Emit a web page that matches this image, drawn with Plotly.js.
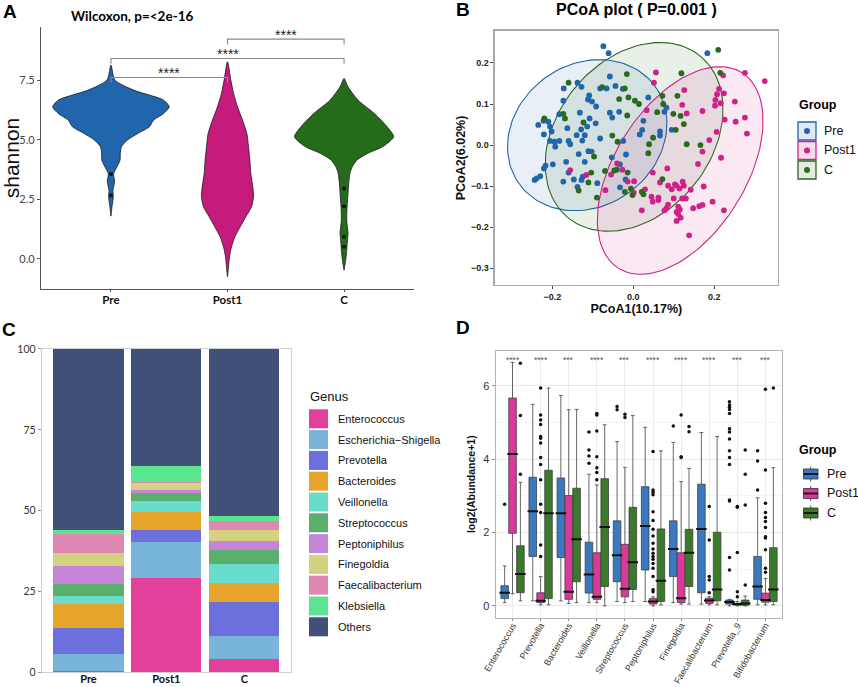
<!DOCTYPE html>
<html><head><meta charset="utf-8">
<script src="https://cdn.plot.ly/plotly-3.0.1.min.js"></script>
<style>html,body{margin:0;padding:0;background:#fff}#chart{width:858px;height:687px}</style>
</head><body><div id="chart"></div>
<script>
// ---------- shared ----------
const groups = ['Pre', 'Post1', 'C'];

// ---------- Panel A: Shannon violins ----------
const shannonQ1 = [5.50, 2.33, 4.61];
const shannonMedian = [6.10, 3.33, 5.06];
const shannonQ3 = [6.51, 4.66, 5.69];
const shannonLower = [4.00, 0.85, 3.40];
const shannonUpper = [7.25, 6.59, 6.52];
const shannonOutGroup = [0, 0, 2, 2, 2, 2];
const shannonOutValue = [3.56, 2.67, 2.95, 2.21, 0.92, 0.50];
const preViolinY = [8.13, 7.50, 7.08, 6.66, 6.38, 6.10, 5.82, 5.54, 5.26, 4.98, 4.70, 4.42, 4.14, 3.86, 3.58, 3.23, 2.88, 2.60, 2.18, 1.79];
const preViolinW = [0, 0.034, 0.195, 0.452, 0.500, 0.452, 0.366, 0.330, 0.230, 0.140, 0.090, 0.080, 0.078, 0.052, 0.023, 0.031, 0.017, 0.020, 0.009, 0];
const post1ViolinY = [8.27, 7.50, 6.94, 6.38, 5.82, 5.26, 4.70, 4.14, 3.58, 3.02, 2.60, 2.18, 1.76, 1.34, 0.92, 0.50, 0.08, -0.34, -0.76];
const post1ViolinW = [0, 0.029, 0.052, 0.086, 0.129, 0.166, 0.180, 0.192, 0.200, 0.217, 0.223, 0.206, 0.157, 0.109, 0.063, 0.034, 0.017, 0.009, 0];
const cViolinY = [7.57, 7.22, 6.66, 6.10, 5.54, 5.12, 4.70, 4.42, 4.14, 3.86, 3.58, 3.16, 2.74, 2.18, 1.62, 1.06, 0.78, 0.36, -0.06, -0.48];
const cViolinW = [0, 0.034, 0.120, 0.260, 0.370, 0.425, 0.330, 0.200, 0.110, 0.070, 0.050, 0.040, 0.034, 0.026, 0.023, 0.034, 0.029, 0.023, 0.014, 0];
const sigPairs = [[0, 1], [0, 2], [1, 2]];
const sigHeights = [7.61, 8.41, 9.22];
const sigLabels = ['****', '****', '****'];

// ---------- Panel B: PCoA ----------
const preX = [-0.074,-0.061,0.183,-0.172,-0.138,-0.128,-0.058,-0.082,-0.066,-0.044,-0.026,-0.109,-0.112,-0.102,-0.092,-0.173,-0.035,-0.058,-0.052,-0.132,-0.108,-0.183,-0.222,-0.235,-0.210,-0.206,-0.202,-0.221,-0.114,-0.093,-0.163,-0.129,-0.120,-0.140,-0.082,-0.025,-0.183,-0.195,-0.206,-0.160,-0.156,-0.126,-0.193,-0.135,-0.111,-0.103,-0.053,-0.166,-0.120,-0.217,-0.221,-0.199,-0.230,-0.239,-0.244,-0.160,-0.147,-0.173,-0.125,-0.128,-0.138,-0.089,-0.033,-0.019,-0.033,-0.018,0.037,0.082,0.077,0.025,0.022,0.016,0.066,0.066,0.095];
const preY = [0.241,0.224,0.224,0.138,0.152,0.142,0.167,0.138,0.138,0.144,0.137,0.121,0.111,0.106,0.094,0.108,0.081,0.079,0.067,0.079,0.065,0.075,0.059,0.049,0.057,0.045,0.033,0.026,0.045,0.053,0.041,0.038,0.024,0.024,0.016,0.010,0.010,0.008,0.010,0.010,0.002,0.011,-0.004,-0.022,-0.015,-0.016,-0.030,-0.041,-0.041,-0.050,-0.057,-0.047,-0.076,-0.081,-0.085,-0.067,-0.084,-0.089,-0.077,-0.085,-0.102,-0.093,-0.047,-0.084,-0.103,-0.023,0.116,0.091,0.081,0.059,0.037,0.026,0.033,0.023,0.037];
const post1X = [0.056,0.276,0.222,0.325,0.051,0.126,0.212,0.224,0.207,0.203,0.216,0.202,0.251,0.121,0.033,0.132,0.171,0.226,0.253,0.276,0.206,0.281,0.188,0.171,0.217,0.160,0.084,0.048,0.066,0.002,0.086,0.103,0.107,0.122,0.125,0.114,0.095,0.174,0.142,0.029,0.045,0.062,0.062,0.048,0.100,0.121,0.130,0.196,0.171,0.163,0.148,0.086,0.082,0.077,0.111,0.115,0.107,0.111,0.117,0.107,0.021,0.224,0.138,-0.156,-0.116,-0.055,-0.040,-0.027,-0.014,0.001,-0.069];
const post1Y = [0.177,0.176,0.170,0.156,0.152,0.134,0.137,0.126,0.124,0.110,0.102,0.096,0.106,0.098,0.085,0.077,0.083,0.062,0.057,0.067,0.032,0.028,0.012,-0.016,-0.031,-0.046,-0.057,-0.067,-0.091,-0.088,-0.099,-0.096,-0.099,-0.089,-0.099,-0.106,-0.108,-0.101,-0.109,-0.108,-0.126,-0.128,-0.134,-0.138,-0.130,-0.130,-0.130,-0.138,-0.146,-0.149,-0.154,-0.145,-0.154,-0.159,-0.150,-0.157,-0.163,-0.168,-0.177,-0.185,-0.159,-0.159,-0.220,-0.061,-0.073,-0.072,-0.045,-0.060,-0.089,-0.116,-0.110];
const cX = [-0.160,-0.077,-0.021,-0.016,-0.035,-0.012,0.004,0.014,-0.015,-0.173,-0.169,-0.220,-0.123,-0.052,-0.039,-0.097,-0.104,-0.111,-0.135,-0.090,-0.070,-0.047,-0.041,-0.014,-0.021,-0.006,-0.002,0.210,0.119,0.215,0.109,0.072,0.074,0.059,0.099,0.117,0.125,0.105,0.049,0.039,0.132,0.166,0.037,0.072,0.021,0.025];
const cY = [0.152,0.141,0.138,0.173,0.112,0.116,0.108,0.100,0.072,0.076,0.065,0.065,0.055,0.023,0.008,-0.028,-0.067,-0.091,-0.111,-0.128,-0.063,-0.062,-0.060,-0.067,-0.114,-0.106,-0.122,0.232,0.175,0.176,0.120,0.120,0.100,0.080,0.076,0.071,0.051,0.037,0.018,0.002,0.002,0.000,-0.020,-0.083,-0.114,-0.120];
// ellipse parameters (Pre, Post1, C)
const ellCx = [-0.114, 0.116, 0.002];
const ellCy = [0.024, -0.062, 0.020];
const ellA = [0.206, 0.283, 0.256];
const ellB = [0.174, 0.161, 0.189];
const ellAngleDeg = [33, 57, 49.4];

// ---------- Panel C: genus composition ----------
const genusNames = ['Enterococcus','Escherichia\u2212Shigella','Prevotella','Bacteroides','Veillonella','Streptococcus','Peptoniphilus','Finegoldia','Faecalibacterium','Klebsiella','Others'];
const genusColors = ['#E2409A','#79B4DB','#6B70DD','#E6A42D','#69DCCB','#5BAF6D','#C685D9','#D4D27F','#E088B4','#5BE58F','#415079'];
const preAbund = [0.4, 5.3, 7.9, 7.5, 2.5, 3.7, 5.7, 3.8, 5.9, 1.4, 55.9];
const post1Abund = [29.1, 11.3, 3.6, 5.7, 3.2, 2.6, 0.8, 2.4, 0.2, 5.0, 36.1];
const cAbund = [4.2, 7.1, 10.5, 5.7, 5.9, 4.5, 2.7, 3.3, 2.8, 1.7, 51.6];

// ---------- Panel D: taxa boxplots ----------
const taxa = ['Enterococcus','Prevotella','Bacteroides','Veillonella','Streptococcus','Peptoniphilus','Finegoldia','Faecalibacterium','Prevotella_9','Bifidobacterium'];
const taxaStars = ['****','****','***','****','***','****','****','****','***','***'];
const dPreQ1 = [0.20,1.35,1.32,0.35,0.66,0.98,0.80,0.36,0.05,0.18];
const dPreMed = [0.36,2.58,2.53,0.86,1.38,2.18,1.55,2.10,0.11,0.53];
const dPreQ3 = [0.55,3.51,3.49,1.74,2.32,3.25,2.32,3.32,0.16,1.35];
const dPreLow = [0.09,0.14,0.14,0.09,0.12,0.12,0.09,0.05,0.00,0.03];
const dPreUp = [1.09,5.50,5.74,3.59,4.48,4.87,4.46,4.73,0.18,2.95];
const dPostQ1 = [1.98,0.09,0.18,0.18,0.25,0.05,0.09,0.07,0.02,0.10];
const dPostMed = [4.14,0.14,0.39,0.25,0.47,0.12,0.21,0.15,0.05,0.16];
const dPostQ3 = [5.67,0.36,3.01,1.45,1.68,0.20,1.45,0.21,0.07,0.35];
const dPostLow = [0.33,0.03,0.07,0.09,0.09,0.00,0.05,0.03,0.00,0.03];
const dPostUp = [6.64,0.80,5.35,3.30,3.78,0.25,3.39,0.25,0.12,0.75];
const dCQ1 = [0.36,0.20,0.66,0.53,0.45,0.12,0.53,0.14,0.02,0.12];
const dCMed = [0.87,2.53,1.82,2.15,1.19,0.69,1.45,0.45,0.07,0.45];
const dCQ3 = [1.64,3.70,3.21,3.47,2.69,2.10,2.09,2.01,0.16,1.59];
const dCLow = [0.14,0.03,0.09,0.00,0.12,0.03,0.05,0.03,0.00,0.03];
const dCUp = [3.37,5.94,5.36,4.94,5.19,4.23,3.75,4.62,0.27,3.77];
const dPreOutliers = [[2.77],[],[],[3.89,4.09,4.25,4.74],[5.35,5.44],[],[4.91],[],[0.98,1.32,2.86,2.89,3.86,4.05,4.23,4.55,4.74,4.83,5.25,5.36,5.42,5.48,5.57],[3.16,3.95,4.23]];
const dPostOutliers = [[],[1.35,1.66,2.55,2.77,3.44,3.86,4.05,4.44,4.57,4.62,4.95,5.07,5.21,5.94],[],[3.44,3.64,3.77,4.07,4.77,5.21,5.25],[5.14,5.23],[0.39,0.44,0.80,1.03,1.16,1.27,1.35,1.44,1.55,1.71,1.91,2.09,2.33,2.57,3.03,3.10,3.16,4.21],[4.05,4.07,5.21],[0.36,0.71,0.80,1.80,2.71],[0.25,0.39,1.46,2.69,2.71],[0.92,1.03,1.53,1.85,1.89,2.14,2.30,2.41,2.55,2.80,3.71,5.91]];
const dCOutliers = [[3.59,5.19,6.62],[],[],[],[],[],[4.75,4.89],[],[0.57,2.75,3.59,4.25],[5.94]];

// ---------- styles ----------
const colA = ['#2166AC', '#C51B7D', '#246B1A'];
const colB = ['#2166AC', '#D0208A', '#2A6A1E'];
const colD = ['#3A78C0', '#D9399B', '#3B7A2B'];
const dOffsets = [-0.28, 0, 0.28];
const PX = x => x / 858, PY = y => 1 - y / 687;
function hexA(h, a) { const n = parseInt(h.slice(1), 16); return `rgba(${n>>16},${(n>>8)&255},${n&255},${a})`; }
const data = [];

// Panel A traces
const vY = [preViolinY, post1ViolinY, cViolinY], vW = [preViolinW, post1ViolinW, cViolinW];
groups.forEach((g, i) => {
  const ws = vW[i], ys = vY[i];
  const xs = ws.map(w => i + w).concat(ws.slice().reverse().map(w => i - w));
  const yy = ys.concat(ys.slice().reverse());
  data.push({type:'scatter', mode:'lines', x:xs, y:yy, fill:'toself', fillcolor:colA[i],
    line:{color:'#1a1a1a', width:0.8, shape:'spline', smoothing:0.7}, xaxis:'x', yaxis:'y', hoverinfo:'skip', showlegend:false});
});
data.push({type:'box', x:[0,1,2], q1:shannonQ1, median:shannonMedian, q3:shannonQ3,
  lowerfence:shannonLower, upperfence:shannonUpper, width:0.2, whiskerwidth:0, boxpoints:false,
  fillcolor:'#ffffff', line:{color:'#111', width:1.1}, xaxis:'x', yaxis:'y', hoverinfo:'skip', showlegend:false});
data.push({type:'scatter', mode:'markers', x:shannonOutGroup, y:shannonOutValue, marker:{color:'#111', size:4},
  xaxis:'x', yaxis:'y', hoverinfo:'skip', showlegend:false});
const sigDrop = 0.22;
sigPairs.forEach((p, k) => {
  const h = sigHeights[k];
  data.push({type:'scatter', mode:'lines', x:[p[0], p[0], p[1], p[1]], y:[h - sigDrop, h, h, h - sigDrop],
    line:{color:'#8a8a8a', width:1.1}, xaxis:'x', yaxis:'y', hoverinfo:'skip', showlegend:false});
});

// Panel B traces
[0, 2, 1].forEach(i => {
  const th = ellAngleDeg[i] * Math.PI / 180, xs = [], ys = [];
  for (let k = 0; k <= 120; k++) {
    const t = 2 * Math.PI * k / 120;
    xs.push(ellCx[i] + ellA[i] * Math.cos(t) * Math.cos(th) - ellB[i] * Math.sin(t) * Math.sin(th));
    ys.push(ellCy[i] + ellA[i] * Math.cos(t) * Math.sin(th) + ellB[i] * Math.sin(t) * Math.cos(th));
  }
  data.push({type:'scatter', mode:'lines', x:xs, y:ys, fill:'toself', fillcolor:hexA(colB[i], 0.1),
    line:{color:colB[i], width:1.1}, xaxis:'x2', yaxis:'y2', hoverinfo:'skip', showlegend:false});
});
[[preX, preY], [post1X, post1Y], [cX, cY]].forEach((pts, i) => {
  data.push({type:'scatter', mode:'markers', x:pts[0], y:pts[1], name:groups[i],
    marker:{color:colB[i], size:5.8}, xaxis:'x2', yaxis:'y2', hoverinfo:'skip', showlegend:false});
});

// Panel C traces
const abund = [preAbund, post1Abund, cAbund];
genusNames.forEach((gname, k) => {
  data.push({type:'bar', x:groups, y:abund.map(a => a[k]), name:gname, marker:{color:genusColors[k], line:{width:0}},
    xaxis:'x3', yaxis:'y3', hoverinfo:'skip', showlegend:false});
});

// Panel D traces
const dStats = [
  [dPreQ1, dPreMed, dPreQ3, dPreLow, dPreUp, dPreOutliers],
  [dPostQ1, dPostMed, dPostQ3, dPostLow, dPostUp, dPostOutliers],
  [dCQ1, dCMed, dCQ3, dCLow, dCUp, dCOutliers]];
dStats.forEach((s, g) => {
  const xs = taxa.map((_, i) => i + dOffsets[g]);
  data.push({type:'box', x:xs, q1:s[0], median:s[1], q3:s[2], lowerfence:s[3], upperfence:s[4],
    width:0.27, whiskerwidth:0.5, boxpoints:false, fillcolor:colD[g], line:{color:'#404040', width:0.8},
    xaxis:'x4', yaxis:'y4', hoverinfo:'skip', showlegend:false});
  data.push({type:'scatter', mode:'markers', x:xs, y:s[1],
    marker:{symbol:'line-ew', size:7.5, line:{width:2, color:'#111'}}, xaxis:'x4', yaxis:'y4', hoverinfo:'skip', showlegend:false});
  const ox = [], oy = [];
  s[5].forEach((vals, i) => vals.forEach(v => { ox.push(i + dOffsets[g]); oy.push(v); }));
  data.push({type:'scatter', mode:'markers', x:ox, y:oy, marker:{color:'#111', size:3.5},
    xaxis:'x4', yaxis:'y4', hoverinfo:'skip', showlegend:false});
});

// ---------- annotations & shapes ----------
const ann = [], shapes = [];
const SANS = 'Liberation Sans, Arial, sans-serif';
const LATO = 'Lato, Liberation Sans, sans-serif';
function letter(t, x, y) { ann.push({text:t, x:PX(x), y:PY(y), xref:'paper', yref:'paper', showarrow:false,
  font:{family:SANS, size:19, weight:'bold', color:'#000'}, xanchor:'center', yanchor:'middle'}); }
letter('A', 10, 11); letter('B', 463, 10); letter('C', 9, 329); letter('D', 463, 328);
ann.push({text:'Wilcoxon, p=<2e-16', x:PX(69), y:PY(16), xref:'paper', yref:'paper', showarrow:false,
  xanchor:'left', yanchor:'middle', font:{family:LATO, size:13.5, weight:'bold', color:'#000'}});
sigPairs.forEach((p, k) => ann.push({text:sigLabels[k], x:(p[0] + p[1]) / 2, y:sigHeights[k] + 0.18, xref:'x', yref:'y',
  showarrow:false, yanchor:'middle', font:{family:SANS, size:14, color:'#222'}}));
ann.push({text:'PCoA plot ( P=0.001 )', x:PX(636), y:PY(9), xref:'paper', yref:'paper', showarrow:false,
  xanchor:'center', yanchor:'middle', font:{family:SANS, size:16, weight:'bold', color:'#000'}});

// Panel B legend
ann.push({text:'Group', x:PX(797), y:PY(105), xref:'paper', yref:'paper', showarrow:false, xanchor:'left', yanchor:'middle',
  font:{family:SANS, size:12.5, weight:'bold', color:'#000'}});
const bKeyFill = ['#dfe8f3', '#f7dcea', '#e2ebdf'];
[131, 150.5, 170].forEach((cy, i) => {
  shapes.push({type:'rect', xref:'paper', yref:'paper', x0:PX(798), x1:PX(816), y0:PY(cy + 9), y1:PY(cy - 9),
    fillcolor:bKeyFill[i], line:{color:colB[i], width:1.3}});
  shapes.push({type:'circle', xref:'paper', yref:'paper', x0:PX(804), x1:PX(810), y0:PY(cy + 3), y1:PY(cy - 3),
    fillcolor:colB[i], line:{width:0}});
  ann.push({text:groups[i], x:PX(822), y:PY(cy), xref:'paper', yref:'paper', showarrow:false, xanchor:'left', yanchor:'middle',
    font:{family:SANS, size:12.5, color:'#111'}});
});

// Panel C legend
ann.push({text:'Genus', x:PX(308), y:PY(396), xref:'paper', yref:'paper', showarrow:false, xanchor:'left', yanchor:'middle',
  font:{family:SANS, size:13, color:'#111'}});
genusNames.forEach((gname, k) => {
  const cy = 418.8 + 20.8 * k;
  shapes.push({type:'rect', xref:'paper', yref:'paper', x0:PX(309), x1:PX(328), y0:PY(cy + 9.5), y1:PY(cy - 9.5),
    fillcolor:genusColors[k], line:{width:0}});
  ann.push({text:gname, x:PX(335.5), y:PY(cy), xref:'paper', yref:'paper', showarrow:false, xanchor:'left', yanchor:'middle',
    font:{family:SANS, size:11, color:'#111'}});
});

// Panel D stars, legend
taxa.forEach((t, i) => ann.push({text:taxaStars[i], x:i, y:6.72, xref:'x4', yref:'y4', showarrow:false, yanchor:'middle',
  font:{family:SANS, size:8.5, color:'#555'}}));
ann.push({text:'Group', x:PX(797), y:PY(450), xref:'paper', yref:'paper', showarrow:false, xanchor:'left', yanchor:'middle',
  font:{family:SANS, size:12.5, weight:'bold', color:'#000'}});
[474, 493.5, 513].forEach((cy, i) => {
  shapes.push({type:'line', xref:'paper', yref:'paper', x0:PX(810.7), x1:PX(810.7), y0:PY(cy + 7.5), y1:PY(cy - 7.5),
    line:{color:'#555', width:1}});
  shapes.push({type:'rect', xref:'paper', yref:'paper', x0:PX(803.5), x1:PX(818), y0:PY(cy + 5), y1:PY(cy - 5),
    fillcolor:colD[i], line:{color:'#333', width:0.8}});
  shapes.push({type:'line', xref:'paper', yref:'paper', x0:PX(803.5), x1:PX(818), y0:PY(cy), y1:PY(cy),
    line:{color:'#111', width:1.8}});
  ann.push({text:groups[i], x:PX(825), y:PY(cy), xref:'paper', yref:'paper', showarrow:false, xanchor:'left', yanchor:'middle',
    font:{family:SANS, size:12.5, color:'#111'}});
});

// ---------- layout ----------
const layout = {
  width:858, height:687, margin:{l:0, r:0, t:0, b:0}, paper_bgcolor:'#fff', plot_bgcolor:'rgba(0,0,0,0)',
  showlegend:false, barmode:'stack', bargap:0.1, font:{family:SANS, color:'#222'},
  xaxis:{domain:[0.0478, 0.4825], range:[-0.6, 2.6], tickvals:[0,1,2], ticktext:groups, anchor:'y',
    showline:true, linecolor:'#555', linewidth:1.1, ticks:'outside', ticklen:2, tickcolor:'#555', ticklabelstandoff:-2,
    showgrid:false, zeroline:false, tickfont:{family:LATO, size:11.5, weight:'bold', color:'#111'}},
  yaxis:{domain:[0.5793, 0.9607], range:[-1.27, 9.73], tickvals:[0,2.5,5,7.5], tickformat:'.1f', anchor:'x',
    showline:true, linecolor:'#555', linewidth:1.1, ticks:'outside', ticklen:3, tickcolor:'#555',
    showgrid:false, zeroline:false, tickfont:{family:LATO, size:11, color:'#444'},
    title:{text:'shannon', font:{family:SANS, size:21, color:'#111'}, standoff:4}},
  xaxis2:{domain:[0.5769, 0.9064], range:[-0.342, 0.357], tickvals:[-0.2,0,0.2], tickformat:'.1f', anchor:'y2',
    showline:true, mirror:true, linecolor:'#a9a9a9', linewidth:1.5, ticks:'outside', ticklen:3, tickcolor:'#444',
    showgrid:false, zeroline:false, tickfont:{family:SANS, size:9, weight:'bold', color:'#222'},
    title:{text:'PCoA1(10.17%)', font:{family:SANS, size:12.5, weight:'bold', color:'#111'}, standoff:2}},
  yaxis2:{domain:[0.5852, 0.9549], range:[-0.341, 0.278], tickvals:[-0.3,-0.2,-0.1,0,0.1,0.2], tickformat:'.1f', anchor:'x2',
    showline:true, mirror:true, linecolor:'#a9a9a9', linewidth:1.5, ticks:'outside', ticklen:3, tickcolor:'#444',
    showgrid:false, zeroline:false, tickfont:{family:SANS, size:9, weight:'bold', color:'#222'},
    title:{text:'PCoA2(6.02%)', font:{family:SANS, size:12.5, weight:'bold', color:'#111'}, standoff:2}},
  xaxis3:{domain:[0.0486, 0.3392], range:[-0.6, 2.6], anchor:'y3', type:'category',
    showline:true, mirror:true, linecolor:'#cfcfcf', linewidth:1, ticks:'', ticklabelstandoff:-3,
    showgrid:false, zeroline:false, tickfont:{family:LATO, size:11, weight:'bold', color:'#111'}},
  yaxis3:{domain:[0.0214, 0.4920], range:[0, 100], tickvals:[0,25,50,75,100], anchor:'x3',
    showline:true, mirror:true, linecolor:'#cfcfcf', linewidth:1, ticks:'outside', ticklen:3, tickcolor:'#999',
    showgrid:false, zeroline:false, tickfont:{family:LATO, size:10.5, color:'#333'}},
  xaxis4:{domain:[0.5777, 0.9118], range:[-0.6, 9.6], tickvals:taxa.map((_, i) => i), ticktext:taxa, tickangle:-60, anchor:'y4',
    showline:true, mirror:true, linecolor:'#b5b5b5', linewidth:1, ticks:'outside', ticklen:2, tickcolor:'#888', ticklabelstandoff:-4,
    showgrid:true, gridcolor:'#ececec', zeroline:false, tickfont:{family:SANS, size:9, color:'#333'}},
  yaxis4:{domain:[0.1009, 0.4895], range:[-0.32, 6.96], tick0:0, dtick:2, anchor:'x4',
    showline:true, mirror:true, linecolor:'#b5b5b5', linewidth:1, ticks:'outside', ticklen:3, tickcolor:'#888',
    showgrid:true, gridcolor:'#e8e8e8', zeroline:false, minor:{dtick:1, showgrid:true, gridcolor:'#f5f5f5'},
    tickfont:{family:SANS, size:11, color:'#333'},
    title:{text:'log2(Abundance+1)', font:{family:SANS, size:10.5, weight:'bold', color:'#111'}, standoff:5}},
  annotations:ann, shapes:shapes
};
Plotly.newPlot('chart', data, layout, {staticPlot:true, displayModeBar:false});
</script>
</body></html>
